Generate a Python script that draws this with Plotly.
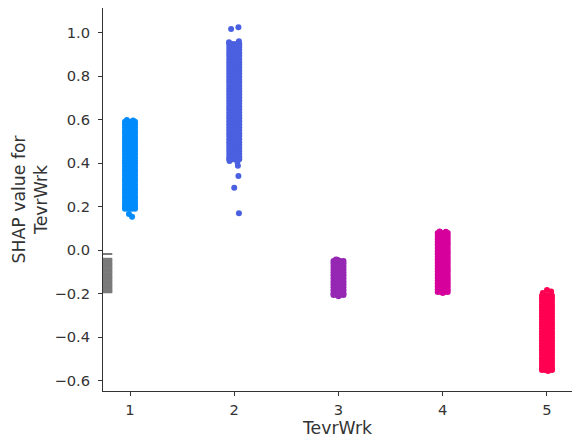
import plotly.graph_objects as go

# Feature value categories and the SHAP values observed for each one
categories = [1, 2, 3, 4, 5]

shap_cat1 = [0.590, 0.577, 0.563, 0.549, 0.536, 0.522, 0.508, 0.495, 0.481, 0.467,
             0.454, 0.440, 0.426, 0.412, 0.399, 0.385, 0.371, 0.358, 0.344, 0.330,
             0.317, 0.303, 0.289, 0.276, 0.262, 0.248, 0.235, 0.221, 0.207, 0.195, 0.190]
shap_cat2 = [0.947, 0.934, 0.920, 0.906, 0.893, 0.879, 0.865, 0.852, 0.838, 0.824,
             0.811, 0.797, 0.783, 0.770, 0.756, 0.742, 0.729, 0.715, 0.701, 0.688,
             0.674, 0.660, 0.647, 0.633, 0.619, 0.606, 0.592, 0.578, 0.565, 0.551,
             0.537, 0.524, 0.510, 0.496, 0.483, 0.469, 0.455, 0.442, 0.428, 0.418]
shap_cat3 = [-0.050, -0.062, -0.075, -0.089, -0.103, -0.116, -0.130, -0.144,
             -0.157, -0.171, -0.185, -0.198, -0.207]
shap_cat4 = [0.078, 0.065, 0.051, 0.037, 0.024, 0.010, -0.004, -0.017, -0.031,
             -0.045, -0.058, -0.072, -0.086, -0.099, -0.113, -0.127, -0.140,
             -0.154, -0.168, -0.181, -0.193]
shap_cat5 = [-0.210, -0.223, -0.237, -0.251, -0.264, -0.278, -0.292, -0.305,
             -0.319, -0.333, -0.346, -0.360, -0.374, -0.387, -0.401, -0.415,
             -0.428, -0.442, -0.456, -0.469, -0.483, -0.497, -0.510, -0.524,
             -0.538, -0.548, -0.552]

# Sparse points that sit away from each dense band
sparse_cat1 = [0.153, 0.166, 0.598, 0.596]
sparse_cat2 = [1.016, 1.025, 0.388, 0.340, 0.286, 0.169, 0.955, 0.960, 0.405, 0.410]
sparse_cat3 = [-0.043, -0.045, -0.212]
sparse_cat4 = [0.085, 0.084, -0.197]
sparse_cat5 = [-0.184, -0.190, -0.197, -0.556]

# Samples with a missing feature value, drawn against the left spine
shap_missing = [-0.018, -0.040, -0.046, -0.052, -0.058, -0.064, -0.070, -0.076,
                -0.082, -0.088, -0.094, -0.100, -0.106, -0.112, -0.118, -0.124,
                -0.130, -0.136, -0.142, -0.148, -0.154, -0.160, -0.166, -0.172,
                -0.178, -0.184, -0.190, -0.194]

band_values = [shap_cat1, shap_cat2, shap_cat3, shap_cat4, shap_cat5]
sparse_values = [sparse_cat1, sparse_cat2, sparse_cat3, sparse_cat4, sparse_cat5]
colors = ["#008bfb", "#4a60e0", "#9527b3", "#d6009c", "#ff0052"]

# horizontal jitter used to spread each band, in x units
BAND_JITTER = [-0.048, -0.016, 0.016, 0.048]
SPARSE_JITTER = {
    1: [0.02, -0.01, -0.03, 0.03],
    2: [-0.03, 0.04, 0.035, 0.04, 0.0, 0.045, -0.05, 0.045, 0.03, -0.045],
    3: [-0.025, -0.01, 0.0],
    4: [-0.03, 0.03, 0.0],
    5: [0.00, 0.04, -0.04, 0.01],
}

X_RANGE = [0.741, 5.24]
Y_RANGE = [-0.648, 1.113]

fig = go.Figure()

for cat, vals, extra, col in zip(categories, band_values, sparse_values, colors):
    xs, ys = [], []
    for v in vals:
        for j in BAND_JITTER:
            xs.append(cat + j)
            ys.append(v)
    jit = SPARSE_JITTER[cat]
    for i, v in enumerate(extra):
        xs.append(cat + jit[i % len(jit)])
        ys.append(v)
    fig.add_trace(go.Scatter(
        x=xs, y=ys, mode="markers",
        marker=dict(size=6, color=col, line=dict(width=0)),
        hoverinfo="y", showlegend=False,
    ))

# missing-value ticks extend rightwards from the left edge of the axis
fig.add_trace(go.Scatter(
    x=[X_RANGE[0] + 0.042] * len(shap_missing), y=shap_missing, mode="markers",
    marker=dict(symbol="line-ew-open", size=7, color="#7a7a7a",
                line=dict(width=2, color="#7a7a7a")),
    hoverinfo="y", showlegend=False, cliponaxis=False,
))

fig.update_layout(
    width=572, height=439,
    margin=dict(l=103, r=0, t=8, b=48),
    paper_bgcolor="white", plot_bgcolor="white",
    font=dict(family="DejaVu Sans", color="#333333"),
    xaxis=dict(
        range=X_RANGE, tickvals=categories, ticktext=[str(c) for c in categories],
        showline=True, linecolor="#333333", linewidth=1, mirror=False,
        ticks="outside", ticklen=4, tickcolor="#333333", tickwidth=1,
        showgrid=False, zeroline=False, tickfont=dict(size=14.7),
        ticklabelstandoff=1,
        title=dict(text="TevrWrk", font=dict(size=17.3), standoff=3),
    ),
    yaxis=dict(
        range=Y_RANGE, tick0=0, dtick=0.2, tickformat=".1f",
        showline=True, linecolor="#333333", linewidth=1, mirror=False,
        ticks="outside", ticklen=4, tickcolor="#333333", tickwidth=1,
        showgrid=False, zeroline=False, tickfont=dict(size=14.7),
        ticklabelstandoff=5,
    ),
    annotations=[dict(
        text="SHAP value for<br>TevrWrk", textangle=-90,
        xref="paper", yref="paper", x=(29 - 103) / 469, y=0.5,
        xanchor="center", yanchor="middle", showarrow=False,
        font=dict(size=17.3, color="#333333"),
    )],
)

fig.write_html("out.html")
